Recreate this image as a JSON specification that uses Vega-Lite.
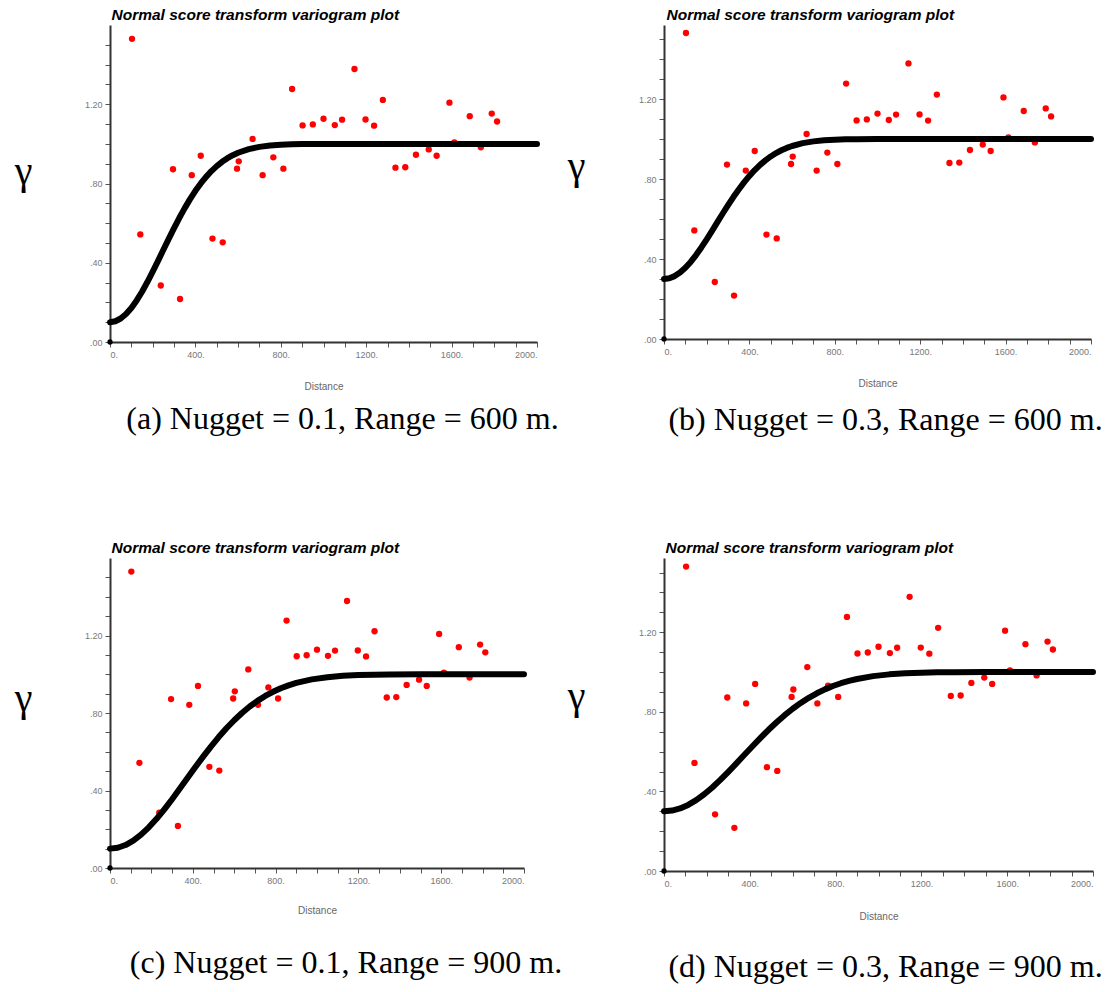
{
  "$schema": "https://vega.github.io/schema/vega-lite/v6.json",
  "background": "white",
  "padding": {"left": 14, "top": 7, "right": 5, "bottom": 5},
  "bounds": "flush",
  "columns": 2,
  "spacing": {"row": 216, "column": 127},
  "datasets": {
    "pts": [
      {"d":103,"g":1.53},{"d":142,"g":0.543},{"d":238,"g":0.285},{"d":328,"g":0.217},{"d":295,"g":0.872},{"d":383,"g":0.842},{"d":425,"g":0.94},{"d":480,"g":0.522},{"d":528,"g":0.503},{"d":595,"g":0.875},{"d":603,"g":0.912},{"d":668,"g":1.025},{"d":715,"g":0.842},{"d":765,"g":0.932},{"d":812,"g":0.875},{"d":853,"g":1.277},{"d":902,"g":1.093},{"d":950,"g":1.098},{"d":1000,"g":1.127},{"d":1053,"g":1.095},{"d":1087,"g":1.122},{"d":1145,"g":1.378},{"d":1197,"g":1.123},{"d":1237,"g":1.092},{"d":1278,"g":1.222},{"d":1337,"g":0.88},{"d":1383,"g":0.882},{"d":1433,"g":0.945},{"d":1493,"g":0.972},{"d":1530,"g":0.94},{"d":1590,"g":1.208},{"d":1613,"g":1.008},{"d":1685,"g":1.14},{"d":1737,"g":0.983},{"d":1788,"g":1.153},{"d":1813,"g":1.113}
    ],
    "origin": [{"d": 0, "g": 0}],
    "curves": [
      {"p":"a","d":0,"g":0.1},{"p":"a","d":25,"g":0.1047},{"p":"a","d":50,"g":0.1186},{"p":"a","d":75,"g":0.1412},{"p":"a","d":100,"g":0.172},{"p":"a","d":125,"g":0.2099},{"p":"a","d":150,"g":0.2539},{"p":"a","d":175,"g":0.3027},{"p":"a","d":200,"g":0.3551},{"p":"a","d":225,"g":0.4098},{"p":"a","d":250,"g":0.4654},{"p":"a","d":275,"g":0.5208},{"p":"a","d":300,"g":0.5749},{"p":"a","d":325,"g":0.6268},{"p":"a","d":350,"g":0.6757},{"p":"a","d":375,"g":0.7212},{"p":"a","d":400,"g":0.7628},{"p":"a","d":425,"g":0.8002},{"p":"a","d":450,"g":0.8335},{"p":"a","d":475,"g":0.8627},{"p":"a","d":500,"g":0.8879},{"p":"a","d":525,"g":0.9095},{"p":"a","d":550,"g":0.9276},{"p":"a","d":575,"g":0.9428},{"p":"a","d":600,"g":0.9552},{"p":"a","d":650,"g":0.9734},{"p":"a","d":700,"g":0.9848},{"p":"a","d":750,"g":0.9917},{"p":"a","d":800,"g":0.9957},{"p":"a","d":850,"g":0.9978},{"p":"a","d":900,"g":0.9989},{"p":"a","d":1000,"g":0.9998},{"p":"a","d":2000,"g":1.0},
      {"p":"b","d":0,"g":0.3},{"p":"b","d":25,"g":0.3036},{"p":"b","d":50,"g":0.3144},{"p":"b","d":75,"g":0.3321},{"p":"b","d":100,"g":0.356},{"p":"b","d":125,"g":0.3855},{"p":"b","d":150,"g":0.4197},{"p":"b","d":175,"g":0.4577},{"p":"b","d":200,"g":0.4984},{"p":"b","d":225,"g":0.5409},{"p":"b","d":250,"g":0.5842},{"p":"b","d":275,"g":0.6273},{"p":"b","d":300,"g":0.6693},{"p":"b","d":325,"g":0.7097},{"p":"b","d":350,"g":0.7478},{"p":"b","d":375,"g":0.7832},{"p":"b","d":400,"g":0.8155},{"p":"b","d":425,"g":0.8446},{"p":"b","d":450,"g":0.8705},{"p":"b","d":475,"g":0.8932},{"p":"b","d":500,"g":0.9128},{"p":"b","d":525,"g":0.9296},{"p":"b","d":550,"g":0.9437},{"p":"b","d":575,"g":0.9555},{"p":"b","d":600,"g":0.9651},{"p":"b","d":650,"g":0.9793},{"p":"b","d":700,"g":0.9882},{"p":"b","d":750,"g":0.9936},{"p":"b","d":800,"g":0.9966},{"p":"b","d":850,"g":0.9983},{"p":"b","d":900,"g":0.9992},{"p":"b","d":1000,"g":0.9998},{"p":"b","d":2000,"g":1.0},
      {"p":"c","d":0,"g":0.1},{"p":"c","d":37.5,"g":0.1047},{"p":"c","d":75,"g":0.1186},{"p":"c","d":112.5,"g":0.1412},{"p":"c","d":150,"g":0.172},{"p":"c","d":187.5,"g":0.2099},{"p":"c","d":225,"g":0.2539},{"p":"c","d":262.5,"g":0.3027},{"p":"c","d":300,"g":0.3551},{"p":"c","d":337.5,"g":0.4098},{"p":"c","d":375,"g":0.4654},{"p":"c","d":412.5,"g":0.5208},{"p":"c","d":450,"g":0.5749},{"p":"c","d":487.5,"g":0.6268},{"p":"c","d":525,"g":0.6757},{"p":"c","d":562.5,"g":0.7212},{"p":"c","d":600,"g":0.7628},{"p":"c","d":637.5,"g":0.8002},{"p":"c","d":675,"g":0.8335},{"p":"c","d":712.5,"g":0.8627},{"p":"c","d":750,"g":0.8879},{"p":"c","d":787.5,"g":0.9095},{"p":"c","d":825,"g":0.9276},{"p":"c","d":862.5,"g":0.9428},{"p":"c","d":900,"g":0.9552},{"p":"c","d":975,"g":0.9734},{"p":"c","d":1050,"g":0.9848},{"p":"c","d":1125,"g":0.9917},{"p":"c","d":1200,"g":0.9957},{"p":"c","d":1275,"g":0.9978},{"p":"c","d":1350,"g":0.9989},{"p":"c","d":1500,"g":0.9998},{"p":"c","d":2000,"g":1.0},
      {"p":"d","d":0,"g":0.3},{"p":"d","d":37.5,"g":0.3036},{"p":"d","d":75,"g":0.3144},{"p":"d","d":112.5,"g":0.3321},{"p":"d","d":150,"g":0.356},{"p":"d","d":187.5,"g":0.3855},{"p":"d","d":225,"g":0.4197},{"p":"d","d":262.5,"g":0.4577},{"p":"d","d":300,"g":0.4984},{"p":"d","d":337.5,"g":0.5409},{"p":"d","d":375,"g":0.5842},{"p":"d","d":412.5,"g":0.6273},{"p":"d","d":450,"g":0.6693},{"p":"d","d":487.5,"g":0.7097},{"p":"d","d":525,"g":0.7478},{"p":"d","d":562.5,"g":0.7832},{"p":"d","d":600,"g":0.8155},{"p":"d","d":637.5,"g":0.8446},{"p":"d","d":675,"g":0.8705},{"p":"d","d":712.5,"g":0.8932},{"p":"d","d":750,"g":0.9128},{"p":"d","d":787.5,"g":0.9296},{"p":"d","d":825,"g":0.9437},{"p":"d","d":862.5,"g":0.9555},{"p":"d","d":900,"g":0.9651},{"p":"d","d":975,"g":0.9793},{"p":"d","d":1050,"g":0.9882},{"p":"d","d":1125,"g":0.9936},{"p":"d","d":1200,"g":0.9966},{"p":"d","d":1275,"g":0.9983},{"p":"d","d":1350,"g":0.9992},{"p":"d","d":1500,"g":0.9998},{"p":"d","d":2000,"g":1.0}
    ]
  },
  "config": {
    "view": {"stroke": null},
    "axis": {"grid": false, "domainColor": "#333", "domainWidth": 2, "tickColor": "#555", "tickWidth": 1, "tickSize": 5, "labelColor": "#777", "labelFont": "Liberation Sans", "labelFontSize": 9, "labelOverlap": false, "labelPadding": 3},
    "axisX": {"titleFont": "Liberation Sans", "titleFontSize": 10, "titleFontWeight": "normal", "titleColor": "#666", "titlePadding": 22},
    "axisY": {"titleFont": "Liberation Serif", "titleFontSize": 40, "titleFontWeight": "normal", "titleColor": "#000", "titleAngle": 0, "titleAlign": "center", "titleBaseline": "middle", "titleX": -87, "titleY": 146},
    "title": {"font": "Liberation Serif", "fontSize": 32, "fontStyle": "normal", "fontWeight": "normal", "color": "#000", "orient": "bottom", "anchor": "middle", "frame": "group"}
  },
  "concat": [
    {
      "width": 427, "height": 317,
      "title": {"text": "(a) Nugget = 0.1, Range = 600 m.", "dx": 19, "offset": 13},
      "resolve": {"axis": {"x": "independent"}},
      "encoding": {
        "y": {"field": "g", "type": "quantitative", "scale": {"domain": [0, 1.6], "nice": false}, "axis": {"title": "γ", "values": [0,0.1,0.2,0.3,0.4,0.5,0.6,0.7,0.8,0.9,1.0,1.1,1.2,1.3,1.4,1.5], "labelExpr": "indexof([0,0.4,0.8,1.2], datum.value) >= 0 ? (datum.value < 1 ? substring(format(datum.value, '.2f'), 1) : format(datum.value, '.2f')) : ''"}}
      },
      "layer": [
        {"data": {"name": "pts"}, "mark": {"type": "circle", "color": "#ff0000", "opacity": 1, "size": 40},
         "encoding": {"x": {"field": "d", "type": "quantitative", "scale": {"domain": [0, 2000], "nice": false, "zero": false}, "axis": {"title": "Distance", "values": [0,100,200,300,400,500,600,700,800,900,1000,1100,1200,1300,1400,1500,1600,1700,1800,1900,2000], "labelExpr": "datum.value % 400 === 0 ? datum.value + '.' : ''"}}}},
        {"data": {"name": "curves"}, "transform": [{"filter": "datum.p === 'a'"}], "mark": {"type": "line", "color": "#000", "strokeWidth": 6, "strokeCap": "round", "strokeJoin": "round"},
         "encoding": {"x": {"field": "d", "type": "quantitative", "axis": {"orient": "top", "title": "Normal score transform variogram plot", "domain": false, "ticks": false, "labels": false, "titleAnchor": "start", "titleAlign": "left", "titleX": 1, "titlePadding": 3, "titleFont": "Liberation Sans", "titleFontSize": 15.5, "titleFontStyle": "italic", "titleFontWeight": "bold", "titleColor": "#000"}}}},
        {"data": {"name": "origin"}, "mark": {"type": "circle", "color": "#000", "opacity": 1, "size": 28},
         "encoding": {"x": {"field": "d", "type": "quantitative", "axis": null}}}
      ]
    },
    {
      "width": 427, "height": 314,
      "title": {"text": "(b) Nugget = 0.3, Range = 600 m.", "dx": 8, "offset": 17},
      "resolve": {"axis": {"x": "independent"}},
      "encoding": {
        "y": {"field": "g", "type": "quantitative", "scale": {"domain": [0, 1.57], "nice": false}, "axis": {"title": "γ", "titleX": -88, "titleY": 141, "values": [0,0.1,0.2,0.3,0.4,0.5,0.6,0.7,0.8,0.9,1.0,1.1,1.2,1.3,1.4,1.5], "labelExpr": "indexof([0,0.4,0.8,1.2], datum.value) >= 0 ? (datum.value < 1 ? substring(format(datum.value, '.2f'), 1) : format(datum.value, '.2f')) : ''"}}
      },
      "layer": [
        {"data": {"name": "pts"}, "mark": {"type": "circle", "color": "#ff0000", "opacity": 1, "size": 40},
         "encoding": {"x": {"field": "d", "type": "quantitative", "scale": {"domain": [0, 2000], "nice": false, "zero": false}, "axis": {"title": "Distance", "values": [0,100,200,300,400,500,600,700,800,900,1000,1100,1200,1300,1400,1500,1600,1700,1800,1900,2000], "labelExpr": "datum.value % 400 === 0 ? datum.value + '.' : ''"}}}},
        {"data": {"name": "curves"}, "transform": [{"filter": "datum.p === 'b'"}], "mark": {"type": "line", "color": "#000", "strokeWidth": 6, "strokeCap": "round", "strokeJoin": "round"},
         "encoding": {"x": {"field": "d", "type": "quantitative", "axis": {"orient": "top", "title": "Normal score transform variogram plot", "domain": false, "ticks": false, "labels": false, "titleAnchor": "start", "titleAlign": "left", "titleX": 2, "titlePadding": 3, "titleFont": "Liberation Sans", "titleFontSize": 15.5, "titleFontStyle": "italic", "titleFontWeight": "bold", "titleColor": "#000"}}}},
        {"data": {"name": "origin"}, "mark": {"type": "circle", "color": "#000", "opacity": 1, "size": 28},
         "encoding": {"x": {"field": "d", "type": "quantitative", "axis": null}}}
      ]
    },
    {
      "width": 414, "height": 310,
      "title": {"text": "(c) Nugget = 0.1, Range = 900 m.", "dx": 29, "offset": 33},
      "resolve": {"axis": {"x": "independent"}},
      "encoding": {
        "y": {"field": "g", "type": "quantitative", "scale": {"domain": [0, 1.6], "nice": false}, "axis": {"title": "γ", "titleY": 140, "values": [0,0.1,0.2,0.3,0.4,0.5,0.6,0.7,0.8,0.9,1.0,1.1,1.2,1.3,1.4,1.5], "labelExpr": "indexof([0,0.4,0.8,1.2], datum.value) >= 0 ? (datum.value < 1 ? substring(format(datum.value, '.2f'), 1) : format(datum.value, '.2f')) : ''"}}
      },
      "layer": [
        {"data": {"name": "pts"}, "mark": {"type": "circle", "color": "#ff0000", "opacity": 1, "size": 40},
         "encoding": {"x": {"field": "d", "type": "quantitative", "scale": {"domain": [0, 2000], "nice": false, "zero": false}, "axis": {"title": "Distance", "titlePadding": 20, "values": [0,100,200,300,400,500,600,700,800,900,1000,1100,1200,1300,1400,1500,1600,1700,1800,1900,2000], "labelExpr": "datum.value % 400 === 0 ? datum.value + '.' : ''"}}}},
        {"data": {"name": "curves"}, "transform": [{"filter": "datum.p === 'c'"}], "mark": {"type": "line", "color": "#000", "strokeWidth": 6, "strokeCap": "round", "strokeJoin": "round"},
         "encoding": {"x": {"field": "d", "type": "quantitative", "axis": {"orient": "top", "title": "Normal score transform variogram plot", "domain": false, "ticks": false, "labels": false, "titleAnchor": "start", "titleAlign": "left", "titleX": 1, "titlePadding": 3, "titleFont": "Liberation Sans", "titleFontSize": 15.5, "titleFontStyle": "italic", "titleFontWeight": "bold", "titleColor": "#000"}}}},
        {"data": {"name": "origin"}, "mark": {"type": "circle", "color": "#000", "opacity": 1, "size": 28},
         "encoding": {"x": {"field": "d", "type": "quantitative", "axis": null}}}
      ]
    },
    {
      "width": 429, "height": 313,
      "title": {"text": "(d) Nugget = 0.3, Range = 900 m.", "dx": 7, "offset": 31},
      "resolve": {"axis": {"x": "independent"}},
      "encoding": {
        "y": {"field": "g", "type": "quantitative", "scale": {"domain": [0, 1.573], "nice": false}, "axis": {"title": "γ", "titleX": -88, "titleY": 138, "values": [0,0.1,0.2,0.3,0.4,0.5,0.6,0.7,0.8,0.9,1.0,1.1,1.2,1.3,1.4,1.5], "labelExpr": "indexof([0,0.4,0.8,1.2], datum.value) >= 0 ? (datum.value < 1 ? substring(format(datum.value, '.2f'), 1) : format(datum.value, '.2f')) : ''"}}
      },
      "layer": [
        {"data": {"name": "pts"}, "mark": {"type": "circle", "color": "#ff0000", "opacity": 1, "size": 40},
         "encoding": {"x": {"field": "d", "type": "quantitative", "scale": {"domain": [0, 2000], "nice": false, "zero": false}, "axis": {"title": "Distance", "titlePadding": 23, "values": [0,100,200,300,400,500,600,700,800,900,1000,1100,1200,1300,1400,1500,1600,1700,1800,1900,2000], "labelExpr": "datum.value % 400 === 0 ? datum.value + '.' : ''"}}}},
        {"data": {"name": "curves"}, "transform": [{"filter": "datum.p === 'd'"}], "mark": {"type": "line", "color": "#000", "strokeWidth": 6, "strokeCap": "round", "strokeJoin": "round"},
         "encoding": {"x": {"field": "d", "type": "quantitative", "axis": {"orient": "top", "title": "Normal score transform variogram plot", "domain": false, "ticks": false, "labels": false, "titleAnchor": "start", "titleAlign": "left", "titleX": 1, "titlePadding": 3, "titleFont": "Liberation Sans", "titleFontSize": 15.5, "titleFontStyle": "italic", "titleFontWeight": "bold", "titleColor": "#000"}}}},
        {"data": {"name": "origin"}, "mark": {"type": "circle", "color": "#000", "opacity": 1, "size": 28},
         "encoding": {"x": {"field": "d", "type": "quantitative", "axis": null}}}
      ]
    }
  ]
}
